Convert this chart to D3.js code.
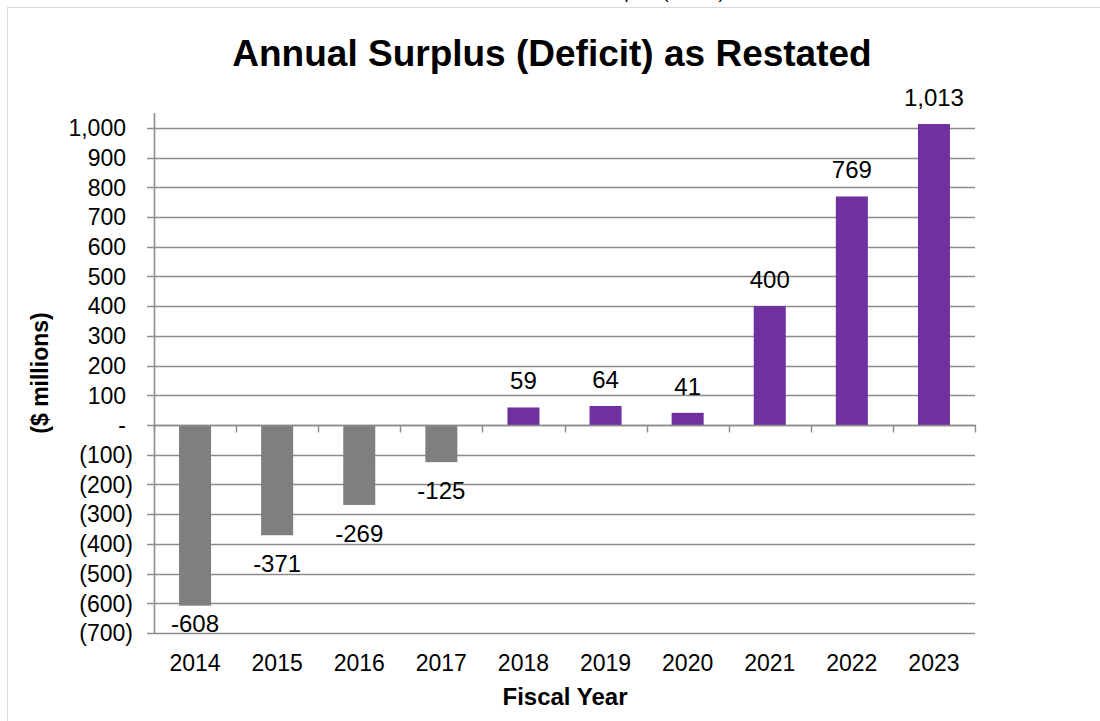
<!DOCTYPE html>
<html>
<head>
<meta charset="utf-8">
<script src="https://cdn.jsdelivr.net/npm/d3@7"></script>
<style>
  html, body { margin: 0; padding: 0; background: #fff; }
  svg { display: block; }
  text { font-family: "Liberation Sans", Arial, sans-serif; fill: #000; }
</style>
</head>
<body>
<svg id="chart" width="1100" height="721"></svg>
<script>
// Fiscal years and annual surplus (deficit), $ millions
const years = ["2014", "2015", "2016", "2017", "2018", "2019", "2020", "2021", "2022", "2023"];
const surplus = [-608, -371, -269, -125, 59, 64, 41, 400, 769, 1013];
const yTicks = [-700, -600, -500, -400, -300, -200, -100, 0, 100, 200, 300, 400, 500, 600, 700, 800, 900, 1000];

const colorDeficit = "#7f7f7f";
const colorSurplus = "#7030a0";
const gridColor = "#8c8c8c";

const svg = d3.select("#chart");

// outer chart frame
svg.append("rect")
  .attr("x", 7.5).attr("y", 7.5)
  .attr("width", 1110).attr("height", 730)
  .attr("fill", "none").attr("stroke", "#d9d9d9").attr("stroke-width", 1);

// heading of the page above, clipped by the frame's top
svg.append("text")
  .attr("x", 630).attr("y", -2)
  .attr("text-anchor", "middle")
  .style("font-size", "18px")
  .text("Annual Surplus (Deficit)");

const plot = { left: 154, right: 975, top: 113, bottom: 633 };

const x = d3.scaleBand().domain(years).range([plot.left, plot.right]).paddingInner(0.61).paddingOuter(0.305);
const xBand = d3.scaleBand().domain(years).range([plot.left, plot.right]);
const y = d3.scaleLinear().domain([-700, 1050]).range([plot.bottom, plot.top]);

// number formatting with a plain hyphen for negatives
const fmt = d3.formatLocale({ decimal: ".", thousands: ",", grouping: [3], currency: ["$", ""], minus: "-" }).format(",");

// horizontal gridlines
svg.append("g")
  .selectAll("line")
  .data(yTicks)
  .join("line")
  .attr("x1", plot.left - 7).attr("x2", plot.right)
  .attr("y1", d => Math.round(y(d)) + 0.5).attr("y2", d => Math.round(y(d)) + 0.5)
  .attr("stroke", gridColor).attr("stroke-width", 1.4);

// y-axis line
svg.append("line")
  .attr("x1", plot.left + 0.5).attr("x2", plot.left + 0.5)
  .attr("y1", plot.top).attr("y2", y(-700) + 1)
  .attr("stroke", gridColor).attr("stroke-width", 1.6);

// y tick labels in accounting format
svg.append("g")
  .selectAll("text")
  .data(yTicks)
  .join("text")
  .attr("x", 133)
  .attr("y", d => y(d))
  .attr("dy", "0.36em")
  .attr("dx", d => d < 0 ? 0 : -7)
  .attr("text-anchor", "end")
  .style("font-size", "23px")
  .text(d => d < 0 ? "(" + fmt(-d) + ")" : d === 0 ? "-" : fmt(d));

// bars
svg.append("g")
  .selectAll("rect")
  .data(years)
  .join("rect")
  .attr("x", (d) => x(d))
  .attr("width", x.bandwidth())
  .attr("y", (d, i) => y(Math.max(0, surplus[i])))
  .attr("height", (d, i) => Math.abs(y(surplus[i]) - y(0)))
  .attr("fill", (d, i) => surplus[i] < 0 ? colorDeficit : colorSurplus);

// category axis along zero
const zeroY = Math.round(y(0)) + 0.5;
svg.append("line")
  .attr("x1", plot.left).attr("x2", plot.right + 1)
  .attr("y1", zeroY).attr("y2", zeroY)
  .attr("stroke", gridColor).attr("stroke-width", 1.6);
const boundaries = years.map(d => xBand(d)).concat([plot.right]);
svg.append("g")
  .selectAll("line")
  .data(boundaries)
  .join("line")
  .attr("x1", d => Math.round(d) + 0.5).attr("x2", d => Math.round(d) + 0.5)
  .attr("y1", zeroY).attr("y2", zeroY + 7)
  .attr("stroke", gridColor).attr("stroke-width", 1.4);

// value labels
svg.append("g")
  .selectAll("text")
  .data(years)
  .join("text")
  .attr("x", d => x(d) + x.bandwidth() / 2)
  .attr("y", (d, i) => {
    const v = surplus[i];
    return v >= 0 ? y(v) - 18 : Math.min(y(v) + 37, plot.bottom - 1);
  })
  .attr("text-anchor", "middle")
  .style("font-size", "24px")
  .text((d, i) => fmt(surplus[i]));

// year labels
svg.append("g")
  .selectAll("text")
  .data(years)
  .join("text")
  .attr("x", d => xBand(d) + xBand.bandwidth() / 2)
  .attr("y", 671)
  .attr("text-anchor", "middle")
  .style("font-size", "23px")
  .text(d => d);

// titles
svg.append("text")
  .attr("x", 552).attr("y", 66)
  .attr("text-anchor", "middle")
  .style("font-size", "37px").style("font-weight", "bold")
  .text("Annual Surplus (Deficit) as Restated");

svg.append("text")
  .attr("x", 565).attr("y", 705)
  .attr("text-anchor", "middle")
  .style("font-size", "24px").style("font-weight", "bold")
  .text("Fiscal Year");

svg.append("text")
  .attr("transform", "translate(48,373) rotate(-90)")
  .attr("text-anchor", "middle")
  .style("font-size", "23px").style("font-weight", "bold")
  .text("($ millions)");
</script>
</body>
</html>
